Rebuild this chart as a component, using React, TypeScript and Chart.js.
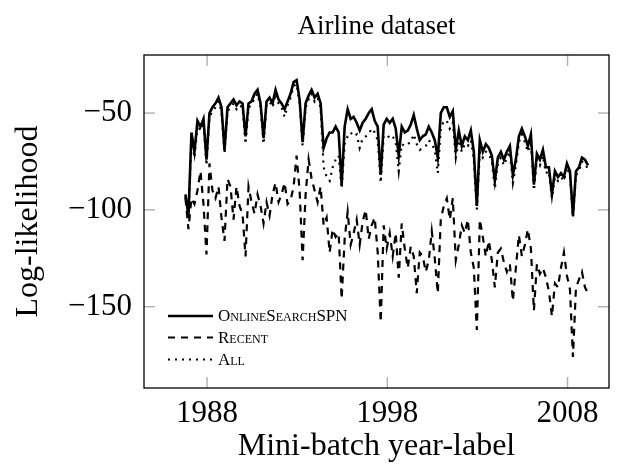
import React, { useEffect, useRef } from "react";
import { Chart, registerables } from "chart.js";
Chart.register(...registerables);

// mini-batch positions: start year and step between successive mini-batches
const START_YEAR = 1986.8;
const STEP = 1 / 6;
const X_TICKS = [1988, 1998, 2008];
const Y_TICKS = [-50, -100, -150];
const SERIES_NAMES = ["OnlineSearchSPN", "Recent", "All"];
const TITLE = "Airline dataset";

const ONLINE_SEARCH_SPN = [
  -92, -103, -60, -70, -54, -57, -53, -74, -50, -47, -45, -42, -47, -69, -47, -45, -43, -46, -44, -45,
  -62, -45, -44, -40, -38, -45, -63, -44, -42, -45, -38, -43, -45, -48, -44, -40, -34, -33, -43, -65,
  -45, -41, -38, -42, -40, -45, -68, -63, -60, -60, -57, -60, -87, -57, -48, -53, -52, -55, -59, -55,
  -53, -50, -48, -54, -57, -82, -56, -53, -55, -53, -58, -72, -57, -60, -59, -56, -51, -58, -64, -62,
  -61, -57, -60, -64, -73, -50, -47, -47, -52, -49, -69, -59, -67, -62, -64, -59, -70, -98, -64, -70,
  -66, -68, -72, -85, -73, -70, -74, -70, -67, -82, -74, -62, -58, -62, -67, -61, -87, -71, -74, -69,
  -78, -78, -92, -80, -83, -81, -83, -76, -80, -103, -80, -78, -73, -74, -77,
];

const RECENT = [
  -94, -110, -94, -97, -90, -80, -97, -123, -76, -90, -94, -88, -104, -116, -84, -88, -105, -88, -98, -102,
  -124, -88, -96, -102, -92, -98, -107, -96, -103, -92, -86, -96, -92, -86, -97, -95, -88, -72, -90, -126,
  -92, -74, -84, -90, -96, -88, -108, -104, -122, -110, -114, -112, -146, -115, -101, -118, -112, -105, -118, -106,
  -100, -115, -108, -104, -122, -158, -108, -120, -112, -124, -112, -135, -107, -120, -130, -119, -124, -143, -122, -124,
  -132, -126, -111, -125, -143, -105, -98, -94, -105, -94, -126, -118, -108, -112, -105, -122, -130, -162, -105, -114,
  -124, -116, -126, -140, -122, -120, -127, -132, -128, -147, -130, -113, -124, -118, -110, -120, -152, -128, -133, -130,
  -135, -142, -155, -138, -140, -130, -122, -134, -141, -176, -140, -136, -132, -140, -143,
];

const ALL = [
  -93, -104, -62, -73, -56, -59, -55, -77, -52, -49, -47, -44, -49, -71, -49, -47, -45, -48, -46, -47,
  -66, -47, -46, -42, -40, -47, -66, -46, -44, -47, -40, -45, -47, -52, -46, -42, -36, -35, -45, -67,
  -47, -43, -40, -44, -42, -47, -78, -83, -85, -78, -74, -72, -89, -66, -62, -60, -62, -61, -68, -63,
  -62, -61, -58, -60, -64, -86, -62, -61, -63, -62, -65, -80, -66, -67, -66, -65, -61, -66, -69, -68,
  -67, -64, -66, -69, -81, -58, -54, -54, -58, -55, -73, -64, -70, -66, -67, -64, -74, -100, -70, -73,
  -70, -71, -75, -89, -76, -73, -77, -73, -70, -86, -77, -65, -61, -65, -70, -64, -90, -74, -77, -72,
  -81, -80, -94, -83, -85, -83, -85, -78, -82, -104, -82, -80, -75, -76, -79,
];

const SERIF = "'Liberation Serif', 'Times New Roman', serif";

const toPoints = (vals: number[]) => vals.map((v, i) => ({ x: START_YEAR + i * STEP, y: v }));

const framePlugin = {
  id: "frameTicksLegend",
  afterDatasetsDraw(chart: any) {
    const { ctx, chartArea: a, scales } = chart;
    ctx.save();
    const seg = (x1: number, y1: number, x2: number, y2: number) => {
      ctx.beginPath();
      ctx.moveTo(x1, y1);
      ctx.lineTo(x2, y2);
      ctx.stroke();
    };
    ctx.strokeStyle = "#b0b0b0";
    ctx.lineWidth = 1.4;
    ctx.setLineDash([]);
    const L = 11;
    for (const v of X_TICKS) {
      const x = scales.x.getPixelForValue(v);
      seg(x, a.bottom, x, a.bottom - L);
      seg(x, a.top, x, a.top + L);
    }
    for (const v of Y_TICKS) {
      const y = scales.y.getPixelForValue(v);
      seg(a.left, y, a.left + L, y);
      seg(a.right, y, a.right - L, y);
    }
    ctx.strokeStyle = "#000";
    ctx.lineWidth = 1.3;
    ctx.strokeRect(a.left, a.top, a.right - a.left, a.bottom - a.top);

    // title centred over the plot
    ctx.fillStyle = "#000";
    ctx.font = `27px ${SERIF}`;
    ctx.textAlign = "center";
    ctx.textBaseline = "alphabetic";
    ctx.fillText(TITLE, (a.left + a.right) / 2, a.top - 21);

    // legend inside the plot, lower left
    const rows = [a.bottom - 72, a.bottom - 50.5, a.bottom - 28.5];
    const x0 = a.left + 24;
    const x1 = a.left + 69;
    chart.data.datasets.forEach((ds: any, i: number) => {
      const y = rows[i];
      ctx.strokeStyle = "#000";
      ctx.lineWidth = ds.borderWidth;
      ctx.setLineDash(ds.borderDash || []);
      seg(x0, y, x1, y);
      ctx.setLineDash([]);
      ctx.fillStyle = "#000";
      ctx.font = `small-caps 17px ${SERIF}`;
      try {
        (ctx as any).fontVariantCaps = "small-caps";
      } catch (e) {}
      ctx.textBaseline = "middle";
      ctx.textAlign = "left";
      ctx.fillText(ds.label, x1 + 5, y + 1);
    });
    ctx.restore();
  },
};

export default function App() {
  const ref = useRef<HTMLCanvasElement>(null);
  useEffect(() => {
    if (!ref.current) return;
    Chart.defaults.color = "#000";
    const chart = new Chart(ref.current, {
      type: "line",
      data: {
        datasets: [
          {
            label: SERIES_NAMES[0],
            data: toPoints(ONLINE_SEARCH_SPN),
            borderColor: "#000",
            borderWidth: 2.6,
            pointRadius: 0,
            tension: 0,
          },
          {
            label: SERIES_NAMES[1],
            data: toPoints(RECENT),
            borderColor: "#000",
            borderWidth: 2.2,
            borderDash: [7, 6],
            pointRadius: 0,
            tension: 0,
          },
          {
            label: SERIES_NAMES[2],
            data: toPoints(ALL),
            borderColor: "#000",
            borderWidth: 2.2,
            borderDash: [2, 5],
            pointRadius: 0,
            tension: 0,
          },
        ],
      },
      options: {
        responsive: false,
        animation: false,
        layout: { padding: { left: 0, right: 12, top: 55, bottom: 0 } },
        plugins: {
          legend: { display: false },
          tooltip: { enabled: false },
          title: { display: false },
        },
        scales: {
          x: {
            type: "linear",
            min: 1984.5,
            max: 2010.3,
            grid: { display: false, drawTicks: false },
            border: { display: false },
            afterBuildTicks: (s: any) => {
              s.ticks = X_TICKS.map((v) => ({ value: v }));
            },
            afterFit: (s: any) => {
              s.height = 81;
            },
            ticks: {
              color: "#000",
              padding: 7,
              maxRotation: 0,
              font: { family: SERIF, size: 31 },
              callback: (v: any) => String(v),
            },
            title: {
              display: true,
              text: "Mini-batch year-label",
              color: "#000",
              font: { family: SERIF, size: 32 },
              padding: { top: 0, bottom: 3 },
            },
          },
          y: {
            type: "linear",
            min: -192,
            max: -20,
            grid: { display: false, drawTicks: false },
            border: { display: false },
            afterBuildTicks: (s: any) => {
              s.ticks = Y_TICKS.map((v) => ({ value: v }));
            },
            afterFit: (s: any) => {
              s.width = 144;
            },
            ticks: {
              color: "#000",
              padding: 12,
              font: { family: SERIF, size: 31 },
              callback: (v: any) => (v < 0 ? "\u2212" + Math.abs(v) : String(v)),
            },
            title: {
              display: true,
              text: "Log-likelihood",
              color: "#000",
              font: { family: SERIF, size: 32 },
              padding: { top: 9, bottom: 0 },
            },
          },
        },
      },
      plugins: [framePlugin],
    });
    return () => chart.destroy();
  }, []);
  return (
    <div style={{ position: "absolute", left: 0, top: 0, width: 621, height: 469, background: "#fff" }}>
      <canvas ref={ref} width={621} height={469} />
    </div>
  );
}
